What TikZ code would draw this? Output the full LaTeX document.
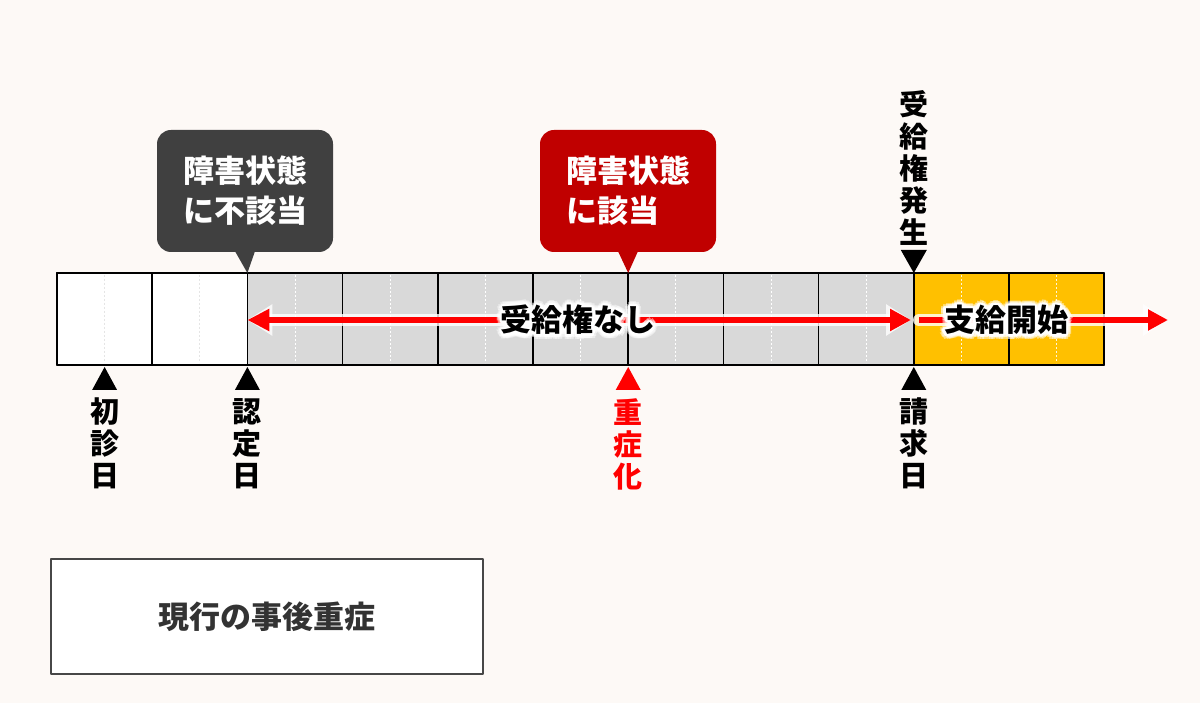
\documentclass[tikz,border=0pt]{standalone}
\usepackage{fontspec}
\newfontfamily\jp{Noto Sans CJK JP}
\usetikzlibrary{arrows.meta,positioning}
\definecolor{bgcol}{HTML}{FDF9F6}
\definecolor{cellgray}{HTML}{D9D9D9}
\definecolor{gold}{HTML}{FFC000}
\definecolor{darkbox}{HTML}{404040}
\definecolor{redbox}{HTML}{C00000}
\definecolor{arrowred}{HTML}{FF0000}
\definecolor{textgray}{HTML}{333333}
\tikzset{
    balloon/.style={text=white,rounded corners=14pt,minimum width=176pt,minimum height=122pt,
        align=left,font=\jp\bfseries\fontsize{31}{40}\selectfont},
    vlabel/.style={anchor=north,align=center,inner sep=0pt,font=\jp\bfseries\fontsize{29}{32}\selectfont},
    glowtext/.style={inner sep=0pt,font=\jp\bfseries\fontsize{31}{31}\selectfont},
}
\newcommand\glowlabel[3]{%
    \foreach \a in {0,30,...,330}{\node[glowtext,text=white,opacity=0.5,shift={(\a:5)}] at (#1) {#3};}
    \foreach \a in {0,30,...,330}{\node[glowtext,text=white,shift={(\a:2.5)}] at (#1) {#3};}
    \node[glowtext] (#2) at (#1) {#3};}
\begin{document}
\begin{tikzpicture}[x=1pt,y=-1pt,line join=round,line cap=round,>=stealth]
                \useasboundingbox (0,0) rectangle (1200,703);
                \fill[bgcol] (0,0) rectangle (1200,703);
                \foreach \i/\c/\d in {0/white/gray!20,1/white/gray!20,2/cellgray/white,3/cellgray/white,
                    4/cellgray/white,5/cellgray/white,6/cellgray/white,7/cellgray/white,8/cellgray/white,
                    9/gold/white!85!gold,10/gold/white!85!gold}{
                    \draw[fill=\c,line width=1.5pt] (57+95.2*\i,273) rectangle ++(95.2,92);
                    \draw[draw=\d,line width=1pt,line cap=butt,dash pattern=on 2pt off 2pt] (57+95.2*\i+47.6,275) -- ++(0,88);
                }
                \draw[line width=1.5pt] (57,273) rectangle (1104.2,365);
                \coordinate (b2) at (247.4,273);
                \coordinate (b6) at (628.2,273);
                \coordinate (t9) at (913.8,273);
                \coordinate (m0) at (104.6,367);
                \coordinate (m2) at (247.4,367);
                \coordinate (m6) at (628.2,367);
                \coordinate (m9) at (913.8,367);
                % callouts
                \node[balloon,fill=darkbox] (futo) at (245,191) {障害状態\\に不該当};
                \fill[darkbox] ([xshift=-10pt,yshift=1pt]futo.south) -- (b2) -- ([xshift=10pt,yshift=1pt]futo.south) -- cycle;
                \node[balloon,fill=redbox] (gaito) at (628,191) {障害状態\\に該当};
                \fill[redbox] ([xshift=-10pt,yshift=1pt]gaito.south) -- (b6) -- ([xshift=10pt,yshift=1pt]gaito.south) -- cycle;
                % markers
                \foreach \m in {m0,m2,m9} \fill (\m) -- ++(-12.5,23) -- ++(25,0) -- cycle;
                \fill[arrowred] (m6) -- ++(-12.5,23) -- ++(25,0) -- cycle;
                \fill (t9) -- ++(-13,-23) -- ++(26,0) -- cycle;
                \node[vlabel,below=31pt of m0] (shoshin) {初\\診\\日};
                \node[vlabel,below=31pt of m2] (nintei) {認\\定\\日};
                \node[vlabel,below=31pt of m6,text=arrowred] (jusho) {重\\症\\化};
                \node[vlabel,below=31pt of m9] (seikyu) {請\\求\\日};
                \node[vlabel,above=27pt of t9] (hassei) {受\\給\\権\\発\\生};
                % arrows
                \coordinate (aL) at (247.4,320);
                \coordinate (aR) at (911,320);
                \coordinate (sL) at (919,320);
                \coordinate (sR) at (1168,320);
                \draw[white,opacity=0.8,line width=12pt,{Triangle[length=25pt,width=30pt]}-{Triangle[length=25pt,width=30pt]}] (aL) -- (aR);
                \draw[white,opacity=0.8,line width=12pt,-{Triangle[length=25pt,width=30pt]}] (sL) -- (sR);
                \draw[arrowred,line width=6pt,line cap=butt,{Triangle[length=22pt,width=21pt]}-{Triangle[length=21pt,width=21pt]}] (aL) -- (aR);
                \draw[arrowred,line width=6pt,line cap=butt,-{Triangle[length=20pt,width=20pt]}] (sL) -- (sR);
                \glowlabel{578,320}{nashi}{受給権なし}
                \glowlabel{1006,320}{kaishi}{支給開始}
                \node[draw=textgray!90,line width=2pt,fill=white,minimum width=432pt,minimum height=115pt,
                    text=textgray,font=\jp\bfseries\fontsize{31}{31}\selectfont] (genko) at (267,616.5) {現行の事後重症};
            \end{tikzpicture}
\end{document}
